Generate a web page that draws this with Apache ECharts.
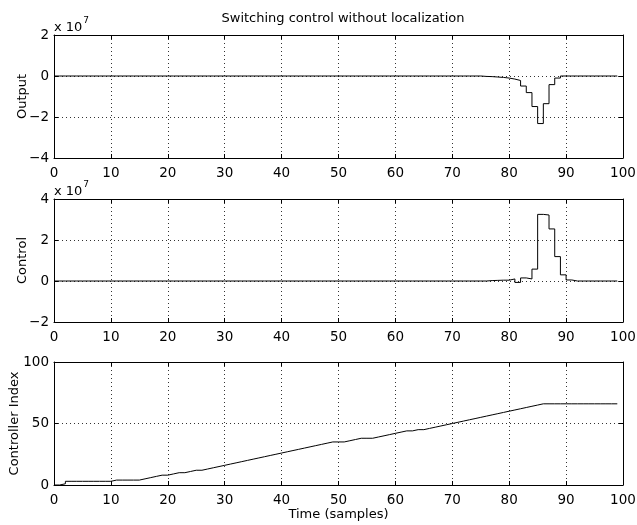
<!DOCTYPE html>
<html>
<head>
<meta charset="utf-8">
<script src="https://cdn.jsdelivr.net/npm/echarts@6/dist/echarts.min.js"></script>
<style>html,body{margin:0;padding:0;background:#fff}#c{width:637px;height:525px}</style>
</head>
<body>
<div id="c"></div>
<script>
// ---- data ----
const titleText = 'Switching control without localization';
const xTicks = [0,10,20,30,40,50,60,70,80,90,100];
const outputTicks = [-4,-2,0,2];      // ×10^7
const controlTicks = [-2,0,2,4];      // ×10^7
const indexTicks = [0,50,100];

const output = [
  0,0,0,0,0,0,0,0,0,0,
  0,0,0,0,0,0,0,0,0,0,
  0,0,0,0,0,0,0,0,0,0,
  0,0,0,0,0,0,0,0,0,0,
  0,0,0,0,0,0,0,0,0,0,
  0,0,0,0,0,0,0,0,0,0,
  0,0,0,0,0,0,0,0,0,0,
  0,0,0,0,0,-0.02e7,-0.03e7,-0.05e7,-0.07e7,-0.1e7,
  -0.15e7,-0.22e7,-0.49e7,-0.81e7,-1.49e7,-2.32e7,-1.35e7,-0.42e7,-0.1e7,0,
  0,0,0,0,0,0,0,0,0,0
];
const control = [
  0,0,0,0,0,0,0,0,0,0,
  0,0,0,0,0,0,0,0,0,0,
  0,0,0,0,0,0,0,0,0,0,
  0,0,0,0,0,0,0,0,0,0,
  0,0,0,0,0,0,0,0,0,0,
  0,0,0,0,0,0,0,0,0,0,
  0,0,0,0,0,0,0,0,0,0,
  0,0,0,0,0,0,0.02e7,0.03e7,0.04e7,0.04e7,
  0.1e7,-0.07e7,0.15e7,0.1e7,0.58e7,3.25e7,3.22e7,2.54e7,1.19e7,0.3e7,
  0.05e7,0,0,0,0,0,0,0,0,0
];
const controllerIndex = [
  0,1,3,3,3,3,3,3,3,3,
  4,4,4,4,4,5,6,7,8,8,
  9,10,10,11,12,12,13,14,15,16,
  17,18,19,20,21,22,23,24,25,26,
  27,28,29,30,31,32,33,34,35,35,
  35,36,37,38,38,38,39,40,41,42,
  43,44,44,45,45,46,47,48,49,50,
  51,52,53,54,55,56,57,58,59,60,
  61,62,63,64,65,66,66,66,66,66,
  66,66,66,66,66,66,66,66,66,66
];
const scaleExp = 7;

// ---- chart ----
const FONT = 'DejaVu Sans';
const pair = arr => arr.map((v, i) => [i, v]);
const fmtNum = v => String(v).replace('-', '\u2212');

const panels = [
  {top: 35, name: 'Output', data: output, ticks: outputTicks, scaled: true, gap: 25},
  {top: 199, name: 'Control', data: control, ticks: controlTicks, scaled: true, gap: 25},
  {top: 362, name: 'Controller Index', data: controllerIndex, ticks: indexTicks, scaled: false, gap: 33}
];
const H = 123;
const grids = [], xAxes = [], yAxes = [], series = [];
const dotted = {show: true, lineStyle: {type: [1, 3], color: '#333', width: 1}};
panels.forEach((p, k) => {
  grids.push({left: 54, right: 14, top: p.top, height: H, containLabel: false, outerBoundsMode: 'none'});
  const div = p.scaled ? Math.pow(10, scaleExp) : 1;
  const ymin = p.ticks[0] * div, ymax = p.ticks[p.ticks.length - 1] * div;
  const yint = (p.ticks[1] - p.ticks[0]) * div;
  xAxes.push({
    type: 'value', gridIndex: k, min: xTicks[0], max: xTicks[xTicks.length - 1],
    interval: xTicks[1] - xTicks[0], position: 'bottom',
    axisLine: {show: true, onZero: false, lineStyle: {color: '#000', width: 1}},
    axisTick: {show: true, inside: true, length: 4, lineStyle: {color: '#000'}},
    axisLabel: {show: true, margin: 8, color: '#000', fontFamily: FONT, fontSize: 13.5,
      showMinLabel: true, showMaxLabel: true, hideOverlap: false},
    splitLine: dotted,
    name: k === 2 ? 'Time (samples)' : '', nameLocation: 'middle', nameGap: 23,
    nameMoveOverlap: false,
    nameTextStyle: {color: '#000', fontFamily: FONT, fontSize: 13}
  });
  xAxes.push({
    type: 'value', gridIndex: k, min: xTicks[0], max: xTicks[xTicks.length - 1],
    interval: xTicks[1] - xTicks[0], position: 'top',
    axisLine: {show: true, onZero: false, lineStyle: {color: '#000', width: 1}},
    axisTick: {show: true, inside: true, length: 4, lineStyle: {color: '#000'}},
    axisLabel: {show: false}, splitLine: {show: false}
  });
  yAxes.push({
    type: 'value', gridIndex: k, min: ymin, max: ymax, interval: yint, position: 'left',
    axisLine: {show: true, onZero: false, lineStyle: {color: '#000', width: 1}},
    axisTick: {show: true, inside: true, length: 4, lineStyle: {color: '#000'}},
    axisLabel: {show: true, margin: 5, color: '#000', fontFamily: FONT, fontSize: 13.5,
      formatter: v => fmtNum(Math.round(v / div))},
    splitLine: dotted,
    name: p.name, nameLocation: 'middle', nameGap: p.gap, nameRotate: 90,
    nameMoveOverlap: false,
    nameTextStyle: {color: '#000', fontFamily: FONT, fontSize: 13}
  });
  yAxes.push({
    type: 'value', gridIndex: k, min: ymin, max: ymax, interval: yint, position: 'right',
    axisLine: {show: true, onZero: false, lineStyle: {color: '#000', width: 1}},
    axisTick: {show: true, inside: true, length: 4, lineStyle: {color: '#000'}},
    axisLabel: {show: false}, splitLine: {show: false}
  });
  series.push({
    type: 'line', step: 'end', xAxisIndex: 2 * k, yAxisIndex: 2 * k,
    data: pair(p.data), showSymbol: false, symbol: 'none', animation: false,
    lineStyle: {color: '#000', width: 1}, z: 5
  });
});

const expLabel = (top) => ({
  type: 'text', left: 54, top: top,
  style: {
    text: '{a|x 10}{b|' + scaleExp + '}',
    rich: {
      a: {fontFamily: FONT, fontSize: 13, fill: '#000', verticalAlign: 'bottom'},
      b: {fontFamily: FONT, fontSize: 9, fill: '#000', verticalAlign: 'top', padding: [0, 0, 9, 1]}
    }
  }
});

const chart = echarts.init(document.getElementById('c'), null, {renderer: 'canvas'});
chart.setOption({
  backgroundColor: '#fff',
  animation: false,
  title: {text: titleText, left: 338, top: 7, textAlign: 'center',
    textStyle: {fontFamily: FONT, fontSize: 13, fontWeight: 'normal', color: '#000'}},
  grid: grids, xAxis: xAxes, yAxis: yAxes, series: series,
  graphic: [expLabel(16), expLabel(180)]
});
</script>
</body>
</html>
